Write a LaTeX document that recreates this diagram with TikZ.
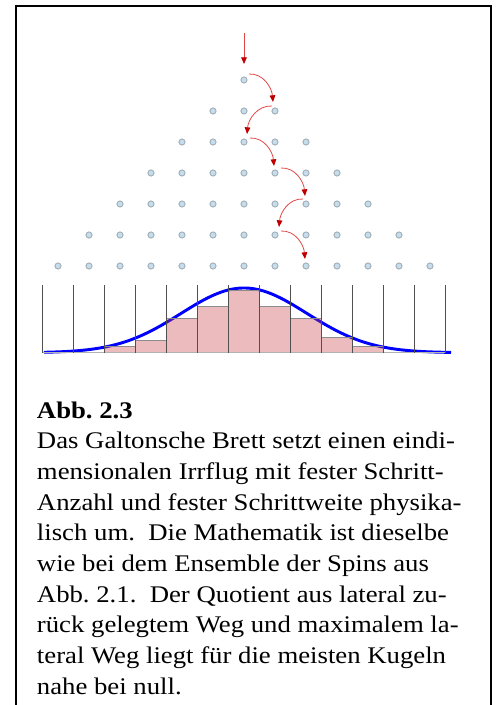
\documentclass[tikz,border=0pt]{standalone}
\usepackage{fontspec}
\setmainfont{Liberation Serif}[FakeStretch=1.12]
\usetikzlibrary{arrows.meta}
\definecolor{pegfill}{HTML}{C6DDEB}
\definecolor{pegdraw}{HTML}{A3AFB8}
\definecolor{flowline}{HTML}{E04848}
\definecolor{flowhead}{HTML}{C00000}
\definecolor{barfill}{RGB}{198,61,66}
\definecolor{bardraw}{HTML}{8C8C8C}
\definecolor{divider}{HTML}{505050}
\frenchspacing
\begin{document}
\begin{tikzpicture}[x=0.75pt,y=0.75pt,
  peg/.style={circle,draw=pegdraw,fill=pegfill,line width=0.7pt,minimum size=4.6pt,inner sep=0pt},
  flow/.style={draw=flowline,line width=0.6pt,-{Triangle[length=5pt,width=4.2pt,color=flowhead]}},
  bar/.style={draw=bardraw,line width=0.6pt,fill=barfill,fill opacity=0.35},
  binline/.style={draw=divider,line width=0.6pt},
  gauss/.style={draw=blue,line width=2.2pt},
  frame/.style={draw=black,line width=1.5pt},
  txt/.style={anchor=base west,inner sep=0pt,font=\fontsize{17.9pt}{20pt}\selectfont\frenchspacing}]
\useasboundingbox (0,0) rectangle (495,-705);
% frame
\draw[frame] (15.5,-705) -- (15.5,-6.5) -- (491,-6.5) -- (491,-705);
% pegs
\foreach \k in {0,...,6}{
  \pgfmathtruncatemacro\n{2*\k}
  \foreach \i in {0,...,\n}{
    \node[peg] (p\k-\i) at ({244+31*(\i-\k)},{-80-31*\k}) {};
  }
}
% path of a ball
\coordinate (drop) at (244,-33);
\draw[flow] (drop) -- ([shift={(0,16)}]p0-0.center);
\draw[flow] ([shift={(5,6)}]p0-0.center) to[out=3,in=95] ([shift={(-2,9)}]p1-2.center);
\draw[flow] ([shift={(-3,5)}]p1-2.center) to[out=177,in=85] ([shift={(3,8)}]p2-2.center);
\draw[flow] ([shift={(6,4)}]p2-2.center) to[out=3,in=95] ([shift={(-1,7)}]p3-4.center);
\draw[flow] ([shift={(6,5)}]p3-4.center) to[out=3,in=95] ([shift={(-1,8)}]p4-6.center);
\draw[flow] ([shift={(-3,5)}]p4-6.center) to[out=177,in=85] ([shift={(4,8)}]p5-6.center);
\draw[flow] ([shift={(6,4)}]p5-6.center) to[out=3,in=95] ([shift={(-1,7)}]p6-8.center);
% gaussian
\draw[gauss] plot[domain=44:451,samples=120,smooth] (\x,{-352.7+64.7*exp(-0.5*((\x-244)/63)^2)});
% histogram
\foreach \m/\t in {-4/346,-3/340.3,-2/318.7,-1/306,0/290,1/306,2/318.7,3/337.7,4/346}
  \draw[bar] ({228.5+31*\m},-352.5) rectangle ({259.5+31*\m},-\t);
\draw[draw=gray!60,line width=0.6pt] (42.5,-352.5) -- (445.5,-352.5);
\foreach \m in {-6,...,7}
  \draw[binline] ({228.5+31*\m},-285) -- ({228.5+31*\m},-352.5);
% caption
\node[txt,font=\fontsize{17.9pt}{20pt}\selectfont\bfseries\frenchspacing] (cap) at (36.7,-418) {Abb. 2.3};
\node[txt] (l1) at (36.7,-448.7) {Das Galtonsche Brett setzt einen eindi-};
\node[txt] (l2) at (36.7,-479.3) {mensionalen Irrflug mit fester Schritt-};
\node[txt] (l3) at (36.7,-510) {Anzahl und fester Schrittweite physika-};
\node[txt] (l4) at (36.7,-540.7) {lisch um.\ \ Die Mathematik ist dieselbe};
\node[txt] (l5) at (36.7,-571.3) {wie bei dem Ensemble der Spins aus};
\node[txt] (l6) at (36.7,-602) {Abb. 2.1.\ \ Der Quotient aus lateral zu-};
\node[txt] (l7) at (36.7,-632.7) {rück gelegtem Weg und maximalem la-};
\node[txt] (l8) at (36.7,-663.3) {teral Weg liegt für die meisten Kugeln};
\node[txt] (l9) at (36.7,-694) {nahe bei null.};
\end{tikzpicture}
\end{document}
